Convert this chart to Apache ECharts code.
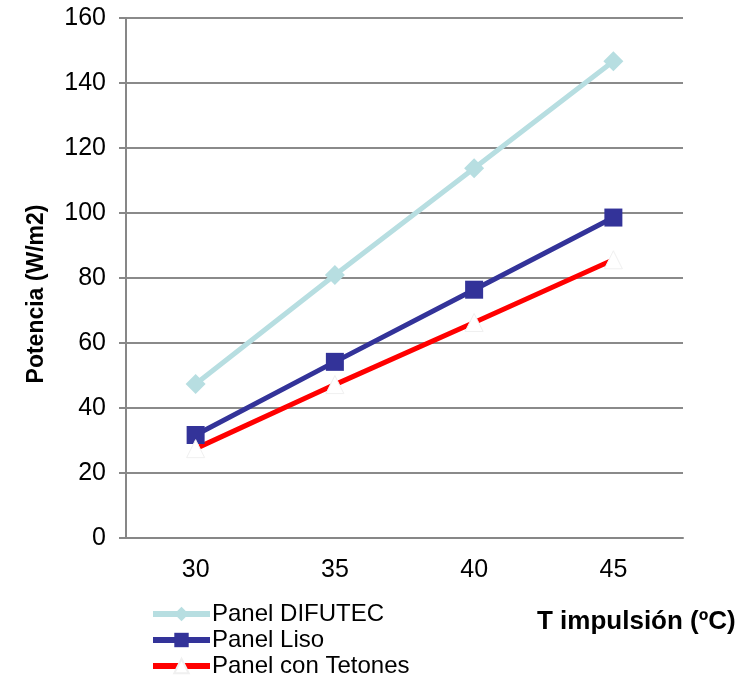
<!DOCTYPE html>
<html>
<head>
<meta charset="utf-8">
<script src="https://cdn.jsdelivr.net/npm/echarts@6/dist/echarts.min.js"></script>
<style>
html,body{margin:0;padding:0;background:#fff;}
#c{width:756px;height:680px;}
</style>
</head>
<body>
<div id="c"></div>
<script>
var categories = ['30', '35', '40', '45'];
var difutec = [47.4, 80.9, 113.8, 146.7];
var liso = [31.7, 54.2, 76.4, 98.6];
var tetones = [27.5, 47.2, 66.3, 85.6];
var seriesNames = ['Panel DIFUTEC', 'Panel Liso', 'Panel con Tetones'];
var seriesColors = ['#B7DEE1', '#333399', '#FF0000'];

var chart = echarts.init(document.getElementById('c'));
var font = 'Liberation Sans, Arial, sans-serif';
chart.setOption({
  animation: false,
  backgroundColor: '#fff',
  textStyle: {fontFamily: font},
  title: {
    text: 'T impulsión (ºC)',
    left: 537, top: 609,
    padding: 0,
    textStyle: {fontFamily: font, fontWeight: 'bold', fontSize: 26, color: '#000'}
  },
  grid: {left: 126, right: 73, top: 18, bottom: 142},
  legend: {
    orient: 'vertical',
    left: 150, top: 601,
    padding: 0,
    itemWidth: 57, itemHeight: 18, itemGap: 0,
    textStyle: {fontFamily: font, fontSize: 24, color: '#000', lineHeight: 26, padding: [0,0,0,-3]},
    data: seriesNames.map(function (n, i) {
      return {name: n, lineStyle: {width: 6, color: seriesColors[i]}};
    })
  },
  xAxis: {
    type: 'category',
    data: categories,
    boundaryGap: true,
    axisLine: {lineStyle: {color: '#878787', width: 2}},
    axisTick: {show: false},
    axisLabel: {fontFamily: font, fontSize: 25, color: '#000', margin: 20}
  },
  yAxis: {
    type: 'value',
    min: 0, max: 160, interval: 20,
    name: 'Potencia (W/m2)',
    nameLocation: 'middle',
    nameGap: 78,
    nameTextStyle: {fontFamily: font, fontWeight: 'bold', fontSize: 23, color: '#000', padding: [0, 32, 0, 0]},
    axisLine: {show: true, lineStyle: {color: '#878787', width: 2}},
    axisTick: {show: true, length: 7, lineStyle: {color: '#878787', width: 2}},
    axisLabel: {fontFamily: font, fontSize: 25, color: '#000', margin: 20},
    splitLine: {lineStyle: {color: '#8a8a8a', width: 2}}
  },
  series: [
    {
      name: seriesNames[0], type: 'line', data: difutec,
      symbol: 'diamond', symbolSize: 20,
      lineStyle: {color: seriesColors[0], width: 5},
      itemStyle: {color: seriesColors[0]}
    },
    {
      name: seriesNames[1], type: 'line', data: liso,
      symbol: 'rect', symbolSize: 18,
      lineStyle: {color: seriesColors[1], width: 5},
      itemStyle: {color: seriesColors[1]}
    },
    {
      name: seriesNames[2], type: 'line', data: tetones,
      symbol: 'triangle', symbolSize: 18,
      lineStyle: {color: seriesColors[2], width: 5},
      itemStyle: {color: '#FFFFFF', borderColor: '#F0F0F0', borderWidth: 1}
    }
  ]
});
</script>
</body>
</html>
